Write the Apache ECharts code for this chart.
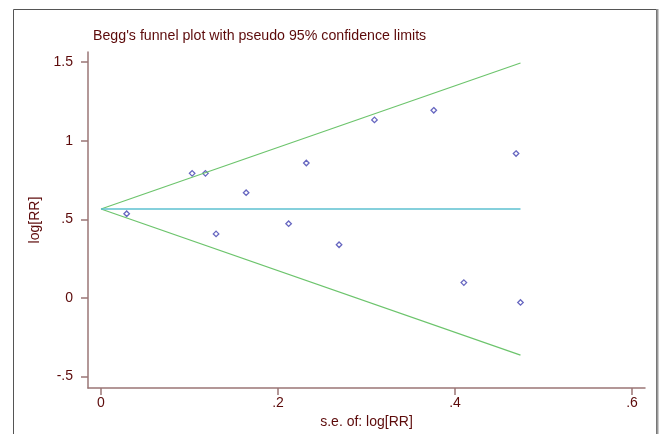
<!DOCTYPE html>
<html>
<head>
<meta charset="utf-8">
<script src="https://cdn.jsdelivr.net/npm/echarts@6/dist/echarts.min.js"></script>
<style>
html,body{margin:0;padding:0;background:#fff;}
#chart{width:661px;height:434px;}
</style>
</head>
<body>
<div id="chart"></div>
<script>
// Study data: standard error of log[RR] and log[RR]
const seValues = [0.029, 0.103, 0.118, 0.130, 0.164, 0.212, 0.232, 0.269, 0.309, 0.376, 0.410, 0.469, 0.474];
const logRR    = [0.535, 0.792, 0.792, 0.407, 0.669, 0.472, 0.858, 0.338, 1.132, 1.193, 0.097, 0.918, -0.029];

// Funnel (pooled estimate and pseudo 95% limits)
const funnelSE    = [0, 0.474];
const pooledLine  = [0.565, 0.565];
const upperLimit  = [0.565, 1.494];
const lowerLimit  = [0.565, -0.364];

// Tick values and labels
const xTickValues = [0, 0.2, 0.4, 0.6];
const xTickLabels = ["0", ".2", ".4", ".6"];
const yTickValues = [-0.5, 0, 0.5, 1, 1.5];
const yTickLabels = ["-.5", "0", ".5", "1", "1.5"];

const titleText = "Begg's funnel plot with pseudo 95% confidence limits";
const xName = "s.e. of: log[RR]";
const yName = "log[RR]";

const textColor = '#5c0a0a';
const axisColor = '#9a7676';
const font = 'Liberation Sans, Arial, sans-serif';

function pairs(xs, ys){ return xs.map((x,i)=>[x, ys[i]]); }
function lookup(vals, labels, v){
  for (let i=0;i<vals.length;i++){ if (Math.abs(vals[i]-v) < 1e-9) return labels[i]; }
  return '';
}

const chart = echarts.init(document.getElementById('chart'), null, {renderer:'canvas'});
chart.setOption({
  animation: false,
  backgroundColor: '#fff',
  title: {
    text: titleText,
    left: 88, top: 24,
    textStyle: {color: textColor, fontSize: 14.2, fontWeight: 'normal', fontFamily: font}
  },
  graphic: [
    {type:'polyline', silent:true, shape:{points:[[13.5,440],[13.5,9.5],[656.5,9.5],[656.5,440]]},
     style:{stroke:'#555', lineWidth:1, fill:null}},
    {type:'line', silent:true, shape:{x1:657.5,y1:9,x2:657.5,y2:440}, style:{stroke:'#999', lineWidth:2}}
  ],
  grid: {left: 88, right: 16, top: 52, bottom: 42, containLabel: false},
  xAxis: {
    type: 'value', min: -0.0147, max: 0.6147,
    name: xName, nameLocation: 'middle', nameGap: 20,
    nameTextStyle: {color: textColor, fontSize: 14, fontFamily: font},
    axisLine: {show: true, onZero: false, lineStyle: {color: axisColor, width: 1.5}},
    axisTick: {show: true, length: 7, customValues: xTickValues, lineStyle: {color: axisColor, width: 1.5}},
    axisLabel: {customValues: xTickValues, margin: 8, color: textColor, fontSize: 14, fontFamily: font,
      formatter: v => lookup(xTickValues, xTickLabels, v)},
    splitLine: {show: false}
  },
  yAxis: {
    type: 'value', min: -0.574, max: 1.564,
    name: yName, nameLocation: 'middle', nameGap: 38, nameRotate: 90,
    nameTextStyle: {color: textColor, fontSize: 14, fontFamily: font},
    axisLine: {show: true, onZero: false, lineStyle: {color: axisColor, width: 1.5}},
    axisTick: {show: true, length: 7, customValues: yTickValues, lineStyle: {color: axisColor, width: 1.5}},
    axisLabel: {customValues: yTickValues, margin: 15, color: textColor, fontSize: 14, fontFamily: font,
      formatter: v => lookup(yTickValues, yTickLabels, v)},
    splitLine: {show: false}
  },
  series: [
    {type:'line', data: pairs(funnelSE, upperLimit), showSymbol:false, silent:true,
     lineStyle:{color:'#6cc46c', width:1.2}},
    {type:'line', data: pairs(funnelSE, lowerLimit), showSymbol:false, silent:true,
     lineStyle:{color:'#6cc46c', width:1.2}},
    {type:'line', data: pairs(funnelSE, pooledLine), showSymbol:false, silent:true,
     lineStyle:{color:'#5cc0d0', width:1.6}},
    {type:'scatter', data: pairs(seValues, logRR), symbol:'diamond', symbolSize:5.5, silent:true,
     itemStyle:{color:'#ffffff', borderColor:'#4040b0', borderWidth:1.3}}
  ]
});
</script>
</body>
</html>
